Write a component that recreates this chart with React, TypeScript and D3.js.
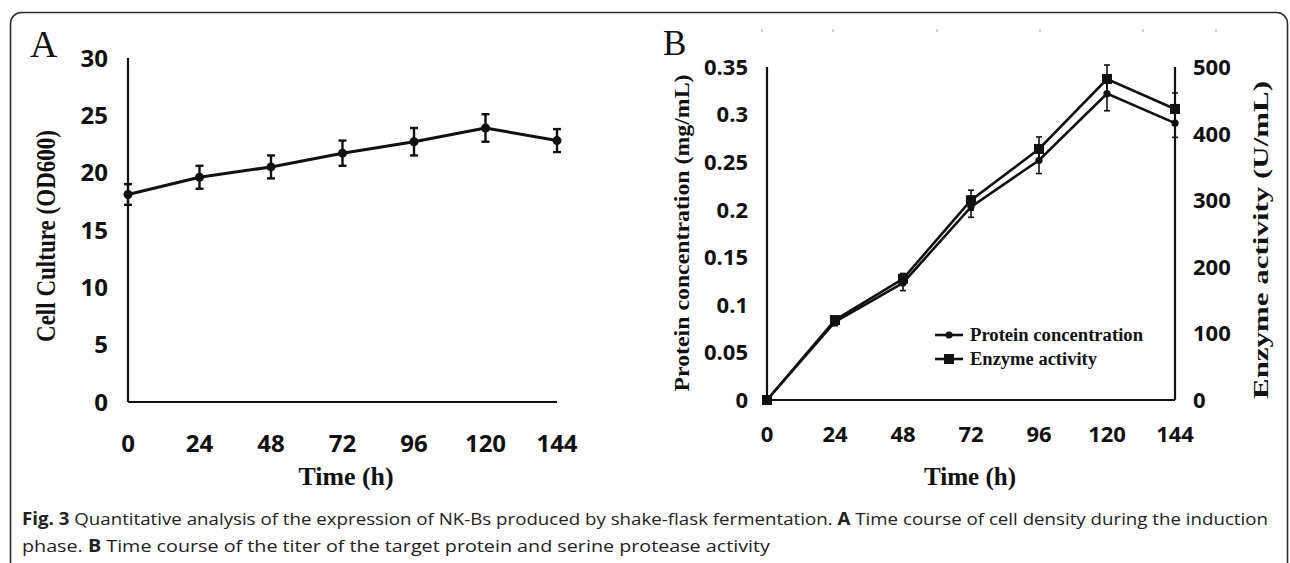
import React from "react";
import * as d3 from "d3";

const hours = [0, 24, 48, 72, 96, 120, 144];
const cellOD = [18.1, 19.6, 20.5, 21.7, 22.7, 23.9, 22.8];
const cellErr = [0.9, 1.0, 1.0, 1.1, 1.2, 1.2, 1.0];
const protein = [0, 0.082, 0.123, 0.203, 0.252, 0.322, 0.291];
const proteinErr = [0, 0.004, 0.008, 0.011, 0.014, 0.018, 0.015];
const enzyme = [0, 120, 182, 300, 377, 482, 437];
const enzymeErr = [0, 5, 8, 15, 18, 21, 24];
const ticksA = [0, 5, 10, 15, 20, 25, 30];
const ticksBLeft = [0, 0.05, 0.1, 0.15, 0.2, 0.25, 0.3, 0.35];
const ticksBRight = [0, 100, 200, 300, 400, 500];
const legendLabels = ["Protein concentration", "Enzyme activity"];
const captionLine1 = [
  { t: "Fig. 3", b: true },
  { t: " Quantitative analysis of the expression of NK-Bs produced by shake-flask fermentation. ", b: false },
  { t: "A", b: true },
  { t: " Time course of cell density during the induction", b: false },
];
const captionLine2 = [
  { t: "phase. ", b: false },
  { t: "B", b: true },
  { t: " Time course of the titer of the target protein and serine protease activity", b: false },
];
const artifactX = [762, 833, 937, 1040, 1143, 1216];

const SERIF = "'Liberation Serif', 'Times New Roman', serif";
const SANS = "'Open Sans', 'Noto Sans', sans-serif";

export default function App() {
  const xA = d3.scaleLinear().domain([0, 144]).range([128, 557]);
  const yA = d3.scaleLinear().domain([0, 30]).range([402, 58]);
  const xB = d3.scaleLinear().domain([0, 144]).range([767, 1175]);
  const yBL = d3.scaleLinear().domain([0, 0.35]).range([400, 67]);
  const yBR = d3.scaleLinear().domain([0, 500]).range([400, 67]);

  const lineA = d3.line<number>().x((_, i) => xA(hours[i])).y((v) => yA(v))(cellOD) || "";
  const lineP = d3.line<number>().x((_, i) => xB(hours[i])).y((v) => yBL(v))(protein) || "";
  const lineE = d3.line<number>().x((_, i) => xB(hours[i])).y((v) => yBR(v))(enzyme) || "";

  const fmtB = (v: number) => String(+v.toFixed(2));

  return (
    <svg
      width={1290}
      height={563}
      style={{ position: "absolute", left: 0, top: 0, display: "block", background: "#fff" }}
    >
      <rect x={0} y={0} width={1290} height={563} fill="#fff" />
      <rect x={10.5} y={12.5} width={1277} height={640} rx={11} fill="none" stroke="#2a2a2a" strokeWidth={1.6} />

      {/* ---------- Chart A ---------- */}
      <text x={30} y={57} fontFamily={SERIF} fontSize={38} fill="#111">A</text>
      <line x1={xA(0)} x2={xA(0)} y1={yA(30)} y2={yA(0)} stroke="#111" strokeWidth={2.2} />
      <line x1={xA(0)} x2={xA(144)} y1={yA(0)} y2={yA(0)} stroke="#111" strokeWidth={2.2} />
      {ticksA.map((t) => (
        <text key={"ya" + t} x={108} y={yA(t)} dy="0.36em" textAnchor="end" fontFamily={SANS} fontWeight={700} fontSize={24} fill="#111">
          {t}
        </text>
      ))}
      {hours.map((h) => (
        <text key={"xa" + h} x={xA(h)} y={452} textAnchor="middle" fontFamily={SANS} fontWeight={700} fontSize={24} fill="#111">
          {h}
        </text>
      ))}
      <text x={346} y={485} textAnchor="middle" fontFamily={SERIF} fontWeight={700} fontSize={25} textLength={95} lengthAdjust="spacingAndGlyphs" fill="#111">
        Time (h)
      </text>
      <text
        transform={`translate(55,236) rotate(-90)`}
        textAnchor="middle"
        fontFamily={SERIF}
        fontWeight={700}
        fontSize={28}
        textLength={212}
        lengthAdjust="spacingAndGlyphs"
        fill="#111"
      >
        Cell Culture (OD600)
      </text>
      <path d={lineA} fill="none" stroke="#111" strokeWidth={3} strokeLinejoin="round" />
      {hours.map((h, i) => (
        <g key={"ea" + h} stroke="#111" strokeWidth={2.4}>
          <line x1={xA(h)} x2={xA(h)} y1={yA(cellOD[i] - cellErr[i])} y2={yA(cellOD[i] + cellErr[i])} />
          <line x1={xA(h) - 4} x2={xA(h) + 4} y1={yA(cellOD[i] - cellErr[i])} y2={yA(cellOD[i] - cellErr[i])} />
          <line x1={xA(h) - 4} x2={xA(h) + 4} y1={yA(cellOD[i] + cellErr[i])} y2={yA(cellOD[i] + cellErr[i])} />
        </g>
      ))}
      {hours.map((h, i) => (
        <circle key={"pa" + h} cx={xA(h)} cy={yA(cellOD[i])} r={4.5} fill="#111" />
      ))}

      {/* ---------- Chart B ---------- */}
      {artifactX.map((x) => (
        <rect key={"art" + x} x={x - 1} y={29} width={2} height={3} fill="#d0d0d0" />
      ))}
      <text x={663} y={55} fontFamily={SERIF} fontSize={35} fill="#111">B</text>
      <line x1={xB(0)} x2={xB(0)} y1={yBL(0.35)} y2={yBL(0)} stroke="#111" strokeWidth={2.2} />
      <line x1={xB(0)} x2={xB(144)} y1={yBL(0)} y2={yBL(0)} stroke="#111" strokeWidth={2.2} />
      <line x1={xB(144)} x2={xB(144)} y1={yBR(500)} y2={yBR(0)} stroke="#111" strokeWidth={2.2} />
      {ticksBLeft.map((t) => (
        <text key={"ybl" + t} x={748} y={yBL(t)} dy="0.36em" textAnchor="end" fontFamily={SANS} fontWeight={700} fontSize={22} fill="#111">
          {fmtB(t)}
        </text>
      ))}
      {ticksBRight.map((t) => (
        <text key={"ybr" + t} x={1193} y={yBR(t)} dy="0.36em" textAnchor="start" fontFamily={SANS} fontWeight={700} fontSize={22} fill="#111">
          {t}
        </text>
      ))}
      {hours.map((h) => (
        <text key={"xb" + h} x={xB(h)} y={442} textAnchor="middle" fontFamily={SANS} fontWeight={700} fontSize={22} fill="#111">
          {h}
        </text>
      ))}
      <text x={970} y={485} textAnchor="middle" fontFamily={SERIF} fontWeight={700} fontSize={25} textLength={92} lengthAdjust="spacingAndGlyphs" fill="#111">
        Time (h)
      </text>
      <text
        transform={`translate(689,233) rotate(-90)`}
        textAnchor="middle"
        fontFamily={SERIF}
        fontWeight={700}
        fontSize={22}
        textLength={317}
        lengthAdjust="spacingAndGlyphs"
        fill="#111"
      >
        Protein concentration (mg/mL)
      </text>
      <text
        transform={`translate(1268,240) rotate(-90)`}
        textAnchor="middle"
        fontFamily={SERIF}
        fontWeight={700}
        fontSize={22}
        textLength={318}
        lengthAdjust="spacingAndGlyphs"
        fill="#111"
      >
        Enzyme activity (U/mL)
      </text>

      {hours.map((h, i) => (
        <g key={"ebp" + h} stroke="#111" strokeWidth={1.6}>
          {proteinErr[i] > 0 && (
            <>
              <line x1={xB(h)} x2={xB(h)} y1={yBL(protein[i] - proteinErr[i])} y2={yBL(protein[i] + proteinErr[i])} />
              <line x1={xB(h) - 3} x2={xB(h) + 3} y1={yBL(protein[i] - proteinErr[i])} y2={yBL(protein[i] - proteinErr[i])} />
              <line x1={xB(h) - 3} x2={xB(h) + 3} y1={yBL(protein[i] + proteinErr[i])} y2={yBL(protein[i] + proteinErr[i])} />
            </>
          )}
          {enzymeErr[i] > 0 && (
            <>
              <line x1={xB(h)} x2={xB(h)} y1={yBR(enzyme[i] - enzymeErr[i])} y2={yBR(enzyme[i] + enzymeErr[i])} />
              <line x1={xB(h) - 3} x2={xB(h) + 3} y1={yBR(enzyme[i] - enzymeErr[i])} y2={yBR(enzyme[i] - enzymeErr[i])} />
              <line x1={xB(h) - 3} x2={xB(h) + 3} y1={yBR(enzyme[i] + enzymeErr[i])} y2={yBR(enzyme[i] + enzymeErr[i])} />
            </>
          )}
        </g>
      ))}
      <path d={lineP} fill="none" stroke="#111" strokeWidth={2.6} strokeLinejoin="miter" />
      <path d={lineE} fill="none" stroke="#111" strokeWidth={2.6} strokeLinejoin="miter" />
      {hours.map((h, i) => (
        <circle key={"pp" + h} cx={xB(h)} cy={yBL(protein[i])} r={3.6} fill="#111" />
      ))}
      {hours.map((h, i) => (
        <rect key={"pe" + h} x={xB(h) - 5} y={yBR(enzyme[i]) - 5} width={10} height={10} fill="#111" />
      ))}

      <g>
        <line x1={935} x2={963} y1={335} y2={335} stroke="#111" strokeWidth={2.6} />
        <circle cx={949} cy={335} r={3.6} fill="#111" />
        <text x={970} y={341} fontFamily={SERIF} fontWeight={700} fontSize={18.5} textLength={173} lengthAdjust="spacingAndGlyphs" fill="#111">
          {legendLabels[0]}
        </text>
        <line x1={935} x2={963} y1={359} y2={359} stroke="#111" strokeWidth={2.6} />
        <rect x={944} y={354} width={10} height={10} fill="#111" />
        <text x={970} y={365} fontFamily={SERIF} fontWeight={700} fontSize={18.5} textLength={127} lengthAdjust="spacingAndGlyphs" fill="#111">
          {legendLabels[1]}
        </text>
      </g>

      <text x={22} y={525} fontFamily={SANS} fontSize={17} fill="#222" textLength={1246} lengthAdjust="spacingAndGlyphs">
        {captionLine1.map((s, i) => (
          <tspan key={"c1" + i} fontWeight={s.b ? 700 : 400}>{s.t}</tspan>
        ))}
      </text>
      <text x={22} y={552} fontFamily={SANS} fontSize={17} fill="#222" textLength={748} lengthAdjust="spacingAndGlyphs">
        {captionLine2.map((s, i) => (
          <tspan key={"c2" + i} fontWeight={s.b ? 700 : 400}>{s.t}</tspan>
        ))}
      </text>
    </svg>
  );
}
